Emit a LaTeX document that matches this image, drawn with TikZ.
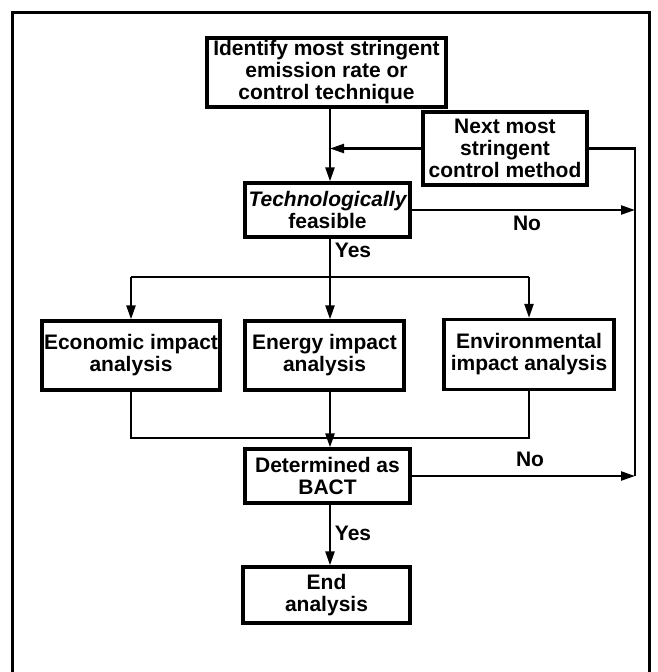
\documentclass[tikz,border=0pt]{standalone}
\usepackage{fontspec}
\setmainfont{Liberation Sans}
\usetikzlibrary{arrows.meta}
\begin{document}
\begin{tikzpicture}[x=1pt,y=1pt,
  box/.style={draw,line width=3.2pt,align=center,inner sep=0pt,
    font=\fontsize{21}{22}\selectfont\bfseries},
  conn/.style={line width=2.3pt},
  arr/.style={conn,-{Triangle[length=14pt,width=9pt]}},
  lbl/.style={font=\fontsize{21}{22}\selectfont\bfseries,inner sep=0pt}]
\useasboundingbox (0,0) rectangle (657,-672);
% frame
\draw[line width=3pt] (12,-672) -- (12,-12) -- (649,-12) -- (649,-672);
% boxes
\node[box,minimum width=239pt,minimum height=69pt] (ident) at (326.5,-72.5)
  {Identify most stringent\\emission rate or\\control technique};
\node[box,minimum width=164pt,minimum height=73pt] (next) at (505,-148.5)
  {Next most\\stringent\\control method};
\node[box,minimum width=165pt,minimum height=54pt] (tech) at (327.5,-210)
  {\itshape Technologically\\feasible};
\node[box,minimum width=178pt,minimum height=69pt] (econ) at (131,-355.5)
  {Economic impact\\analysis};
\node[box,minimum width=159pt,minimum height=69pt] (energy) at (324.5,-355.5)
  {Energy impact\\analysis};
\node[box,minimum width=170pt,minimum height=70pt] (env) at (529,-354.5)
  {Environmental\\impact analysis};
\node[box,minimum width=165pt,minimum height=54pt] (det) at (327.5,-476)
  {Determined as\\BACT};
\node[box,minimum width=167pt,minimum height=56pt] (end) at (326.5,-595)
  {End\\analysis};
% coordinates
\coordinate (trunk) at (330,-150);
\coordinate (fbtop) at (635,-150);
\coordinate (fbbot) at (635,-476);
\coordinate (split) at (330,-277);
\coordinate (merge) at (330,-438);
% connectors
\draw[arr] (ident.south -| trunk) -- (tech.north -| trunk);
\draw[arr] (next.west) -- (next.west -| trunk);
\draw[conn] (next.east) -- (next.east -| fbtop) -- (fbbot);
\draw[arr] (tech.east) -- (tech.east -| fbbot);
\draw[arr] (det.east) -- (fbbot);
\draw[conn] (tech.south -| split) -- (split);
\draw[conn] (split -| econ.north) -- (split -| env.north);
\draw[arr] (split -| econ.north) -- (econ.north);
\draw[arr] (split) -- (energy.north -| split);
\draw[arr] (split -| env.north) -- (env.north);
\draw[conn] (econ.south) |- (merge);
\draw[conn] (env.south) |- (merge);
\draw[arr] (energy.south -| merge) -- (det.north -| merge);
\draw[arr] (det.south -| merge) -- (end.north -| merge);
% labels
\node[lbl] (no1) at (527,-223) {No};
\node[lbl] (yes1) at (353,-250) {Yes};
\node[lbl] (no2) at (530,-459) {No};
\node[lbl] (yes2) at (353,-533) {Yes};
\end{tikzpicture}
\end{document}
